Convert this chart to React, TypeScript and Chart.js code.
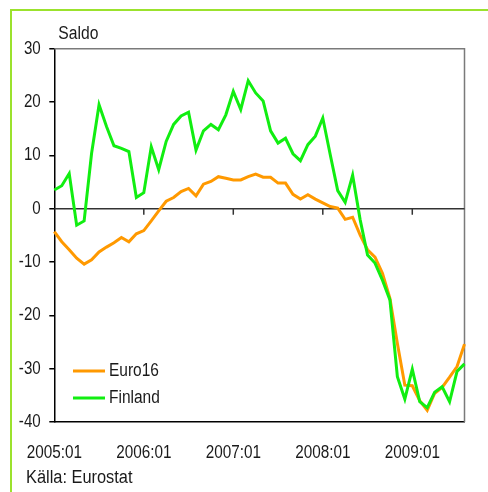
import React, { useEffect, useRef } from 'react';
import { Chart, registerables } from 'chart.js';

Chart.register(...registerables);

const FONT = "'Liberation Sans', Arial, sans-serif";

const months: string[] = [
  '2005:01', '2005:02', '2005:03', '2005:04', '2005:05', '2005:06', '2005:07', '2005:08', '2005:09', '2005:10', '2005:11', '2005:12',
  '2006:01', '2006:02', '2006:03', '2006:04', '2006:05', '2006:06', '2006:07', '2006:08', '2006:09', '2006:10', '2006:11', '2006:12',
  '2007:01', '2007:02', '2007:03', '2007:04', '2007:05', '2007:06', '2007:07', '2007:08', '2007:09', '2007:10', '2007:11', '2007:12',
  '2008:01', '2008:02', '2008:03', '2008:04', '2008:05', '2008:06', '2008:07', '2008:08', '2008:09', '2008:10', '2008:11', '2008:12',
  '2009:01', '2009:02', '2009:03', '2009:04', '2009:05', '2009:06', '2009:07', '2009:08',
];

const euro16: number[] = [
  -4.3, -6.2, -7.7, -9.3, -10.4, -9.6, -8.1, -7.2, -6.4, -5.4, -6.2, -4.7,
  -4.1, -2.3, -0.4, 1.4, 2.1, 3.2, 3.8, 2.4, 4.6, 5.1, 6.0, 5.7,
  5.4, 5.4, 6.0, 6.5, 5.9, 5.9, 4.8, 4.8, 2.7, 1.8, 2.6, 1.8,
  1.1, 0.4, 0.1, -2.0, -1.6, -4.9, -7.7, -9.1, -12.1, -16.8, -25.3, -33.1,
  -33.2, -36.0, -37.8, -34.6, -33.5, -31.6, -29.6, -25.4,
];

const finland: number[] = [
  3.5, 4.3, 6.6, -3.1, -2.3, 10.4, 19.5, 15.4, 11.8, 11.3, 10.7, 2.1,
  3.0, 11.6, 7.3, 12.6, 15.8, 17.4, 18.1, 11.0, 14.6, 15.8, 14.8, 17.6,
  22.0, 18.6, 24.0, 21.7, 20.2, 14.6, 12.3, 13.2, 10.3, 9.0, 12.0, 13.6,
  17.0, 10.1, 3.4, 1.2, 6.3, -2.0, -8.7, -10.2, -13.4, -17.1, -31.5, -35.7,
  -30.1, -36.2, -37.3, -34.4, -33.4, -36.2, -30.5, -29.1,
];

const yTicks: number[] = [30, 20, 10, 0, -10, -20, -30, -40];
const seriesNames: string[] = ['Euro16', 'Finland'];
const seriesColors: string[] = ['#ff9900', '#11ee11'];
const yTitle = 'Saldo';
const source = 'Källa: Eurostat';
const TEXT = '#1a1a1a';

function drawText(ctx: CanvasRenderingContext2D, text: string, x: number, y: number, align: CanvasTextAlign, sx: number) {
  ctx.save();
  ctx.translate(x, y);
  ctx.scale(sx, 1);
  ctx.textAlign = align;
  ctx.textBaseline = 'middle';
  ctx.fillStyle = TEXT;
  ctx.font = `18px ${FONT}`;
  ctx.fillText(text, 0, 0);
  ctx.restore();
}

const framePlugin = {
  id: 'frame',
  beforeDatasetsDraw(chart: any) {
    const { ctx, chartArea, scales } = chart;
    const { left, right, top, bottom } = chartArea;
    ctx.save();
    ctx.strokeStyle = '#7a7a7a';
    ctx.lineWidth = 1.5;
    ctx.beginPath();
    ctx.moveTo(left, top);
    ctx.lineTo(right, top);
    ctx.lineTo(right, bottom);
    ctx.stroke();
    const y0 = scales.y.getPixelForValue(0);
    ctx.strokeStyle = '#333';
    ctx.lineWidth = 1.5;
    ctx.beginPath();
    ctx.moveTo(left, y0);
    ctx.lineTo(right, y0);
    for (let i = 12; i < months.length; i += 12) {
      const px = scales.x.getPixelForValue(i);
      ctx.moveTo(px, y0);
      ctx.lineTo(px, y0 + 6);
    }
    ctx.stroke();
    ctx.restore();
  },
  afterDraw(chart: any) {
    const { ctx, chartArea, scales } = chart;
    // y tick labels
    yTicks.forEach((v) => {
      drawText(ctx, String(v), 40.7, scales.y.getPixelForValue(v), 'right', 0.84);
    });
    // x tick labels
    months.forEach((m, i) => {
      if (i % 12 === 0) drawText(ctx, m, scales.x.getPixelForValue(i), 453, 'center', 0.85);
    });
    drawText(ctx, yTitle, chartArea.left + 4, 34, 'left', 0.87);
    drawText(ctx, source, 26, 478, 'left', 0.91);
    // legend
    const ly = [371, 398];
    seriesNames.forEach((name, i) => {
      ctx.save();
      ctx.strokeStyle = seriesColors[i];
      ctx.lineWidth = 3;
      ctx.beginPath();
      ctx.moveTo(73, ly[i]);
      ctx.lineTo(105, ly[i]);
      ctx.stroke();
      ctx.restore();
      drawText(ctx, name, 109, ly[i], 'left', 0.86);
    });
  },
};

export default function App() {
  const ref = useRef<HTMLCanvasElement>(null);
  useEffect(() => {
    const chart = new Chart(ref.current as HTMLCanvasElement, {
      type: 'line',
      data: {
        labels: months,
        datasets: [
          {
            label: seriesNames[0],
            data: euro16,
            borderColor: seriesColors[0],
            backgroundColor: seriesColors[0],
            borderWidth: 3,
            pointRadius: 0,
            tension: 0,
            order: 1,
          },
          {
            label: seriesNames[1],
            data: finland,
            borderColor: seriesColors[1],
            backgroundColor: seriesColors[1],
            borderWidth: 3,
            pointRadius: 0,
            tension: 0,
            order: 0,
          },
        ],
      },
      options: {
        responsive: false,
        animation: false,
        layout: { padding: { left: 0, right: 23.5, top: 48.7, bottom: 0 } },
        plugins: { legend: { display: false }, tooltip: { enabled: false } },
        scales: {
          x: {
            type: 'category',
            offset: false,
            grid: { display: false, drawTicks: false },
            border: { display: true, color: '#000', width: 1.5 },
            ticks: { display: false, autoSkip: false, maxRotation: 0 },
            afterFit: (s: any) => {
              s.height = 70;
            },
          },
          y: {
            min: -40,
            max: 30,
            afterFit: (s: any) => {
              s.width = 54.3;
            },
            ticks: { display: false, stepSize: 10 },
            grid: { drawOnChartArea: false, drawTicks: true, tickLength: 5, color: '#000', lineWidth: 1.5 },
            border: { display: true, color: '#000', width: 1.5 },
          },
        },
      },
      plugins: [framePlugin],
    } as any);
    return () => chart.destroy();
  }, []);
  return (
    <div style={{ position: 'fixed', left: 0, top: 0, width: 488, height: 492, overflow: 'hidden', background: '#fff' }}>
      <div
        style={{
          position: 'absolute',
          left: 10,
          top: 9,
          width: 600,
          height: 600,
          borderTop: '2px solid #9be22d',
          borderLeft: '2px solid #9be22d',
        }}
      />
      <canvas ref={ref} width={488} height={492} style={{ position: 'absolute', left: 0, top: 0, width: 488, height: 492 }} />
    </div>
  );
}
